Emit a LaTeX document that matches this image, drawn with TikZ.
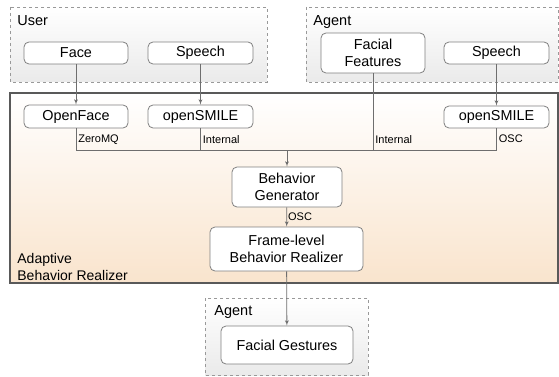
\documentclass[tikz,border=0pt]{standalone}
\usepackage{fontspec}
\setmainfont{Liberation Sans}
\usetikzlibrary{arrows,positioning}

\definecolor{peach}{RGB}{249,228,205}
\definecolor{groupgray}{RGB}{234,234,234}
\definecolor{linegray}{RGB}{110,110,110}

\begin{document}
\begin{tikzpicture}[x=1pt,y=-1pt,>=latex',line width=0.8pt]
    % Styles
    \tikzset{
      module/.style={draw=gray,fill=white,rounded corners=5pt,align=center,
        inner sep=1pt,font=\fontsize{14.4}{16.5}\selectfont},
      group/.style={draw=gray!80,dashed,top color=white,bottom color=groupgray},
      title/.style={anchor=north west,inner sep=0pt,font=\fontsize{14.5}{16}\selectfont},
      lbl/.style={anchor=west,inner sep=2pt,font=\fontsize{11}{13}\selectfont},
      conn/.style={draw=linegray}
    }
    \useasboundingbox (0,0) rectangle (559,377);

    % Groups
    \path[group] (10,7) rectangle (267,82);
    \node[title] (user) at (17,15) {User};
    \path[group] (306,7) rectangle (558,82);
    \node[title] (agent) at (313,15) {Agent};
    \path[draw=black!65,line width=1.6pt,top color=white,bottom color=peach]
      (10,93) rectangle (558,283);
    \node[title,anchor=south west,align=left,font=\fontsize{14}{16.5}\selectfont]
      (abr) at (17,281) {Adaptive\\Behavior Realizer};
    \path[group] (205,298) rectangle (368,375);
    \node[title] (agent2) at (214,305) {Agent};

    % Nodes, positions, and labels
    \node[module,minimum width=104pt,minimum height=22pt] (face)  at (76,53)    {Face};
    \node[module,minimum width=105pt,minimum height=22pt] (usp)   at (200.5,53) {Speech};
    \node[module,minimum width=104pt,minimum height=40pt] (ff)    at (373,53)   {Facial\\Features};
    \node[module,minimum width=105pt,minimum height=22pt] (asp)   at (496.5,53) {Speech};
    \node[module,minimum width=104pt,minimum height=23pt] (of)    at (76,116.5) {OpenFace};
    \node[module,minimum width=105pt,minimum height=23pt] (smL)   at (200.5,116.5) {openSMILE};
    \node[module,minimum width=105pt,minimum height=22pt] (smR)   at (496.5,117) {openSMILE};
    \node[module,minimum width=110pt,minimum height=40pt] (bg)    at (287,187)  {Behavior\\Generator};
    \node[module,minimum width=153pt,minimum height=44pt] (flbr)  at (286.5,249) {Frame-level\\Behavior Realizer};
    \node[module,minimum width=132pt,minimum height=38pt] (fg)    at (287,345)  {Facial Gestures};
    \coordinate (m) at (287,150);

    % Edges and labels
    \path[conn,->] (face) -- (of);
    \path[conn,->] (usp) -- (smL);
    \path[conn,->] (asp) -- (smR);
    \path[conn] (of.south)  |- node[lbl,pos=.25]  {ZeroMQ}   (m);
    \path[conn] (smL.south) |- node[lbl,pos=.25]  {Internal} (m);
    \path[conn] (ff.south)  |- node[lbl,pos=.435] {Internal} (m);
    \path[conn] (smR.south) |- node[lbl,pos=.25]  {OSC}      (m);
    \path[conn,->] (m) -- (bg);
    \path[conn,->] (bg) -- node[lbl,inner sep=1pt] {OSC} (flbr);
    \path[conn,->] (flbr) -- (fg);

\end{tikzpicture}
\end{document}
